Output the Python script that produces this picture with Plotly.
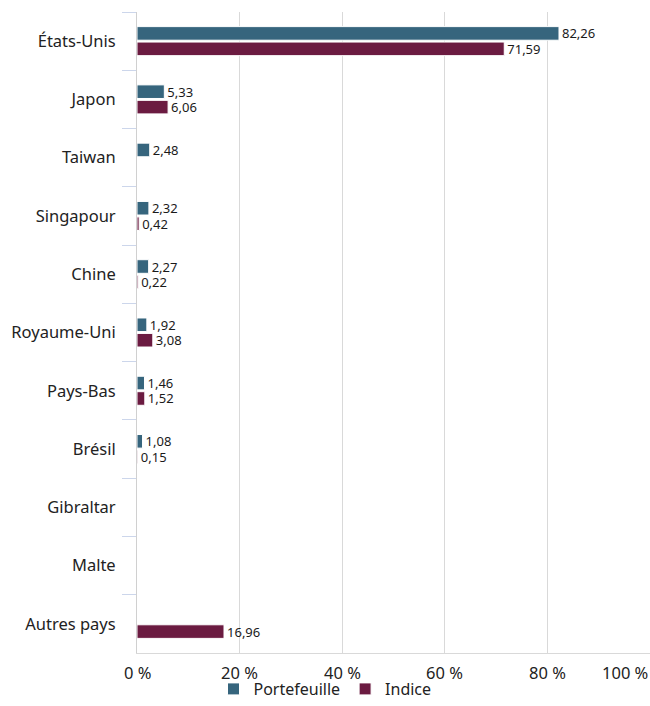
import plotly.graph_objects as go

# Répartition géographique (%)
pays = ["États-Unis", "Japon", "Taiwan", "Singapour", "Chine", "Royaume-Uni",
        "Pays-Bas", "Brésil", "Gibraltar", "Malte", "Autres pays"]
portefeuille = [82.26, 5.33, 2.48, 2.32, 2.27, 1.92, 1.46, 1.08, None, None, None]
indice = [71.59, 6.06, None, 0.42, 0.22, 3.08, 1.52, 0.15, None, None, 16.96]

x_ticks = [0, 20, 40, 60, 80, 100]
x_tick_labels = ["0 %", "20 %", "40 %", "60 %", "80 %", "100 %"]

COL_PF = "#36657d"
COL_IDX = "#6b1b41"
FONT = "Noto Sans"
TXT = "#222222"

fig = go.Figure()
for name, vals, col in [("Portefeuille", portefeuille, COL_PF),
                        ("Indice", indice, COL_IDX)]:
    fig.add_trace(go.Bar(
        name=name, y=pays, x=vals, orientation="h",
        marker=dict(color=col, line=dict(color="white", width=1)),
        texttemplate="%{x:.2f}", textposition="outside",
        textfont=dict(family=FONT, size=13, color="#1a1a1a"),
        constraintext="none", cliponaxis=False,
        hoverinfo="skip",
    ))

fig.update_layout(
    width=650, height=706,
    margin=dict(l=137, r=0, t=12, b=53, autoexpand=False),
    plot_bgcolor="white", paper_bgcolor="white",
    separators=", ",
    barmode="group", bargap=0.47, bargroupgap=0.12,
    uniformtext=dict(minsize=13, mode="show"),
    font=dict(family=FONT, size=16.5, color=TXT),
    showlegend=True,
    legend=dict(orientation="h", xref="container", yref="container",
                x=0.5, xanchor="center", y=-0.011, yanchor="bottom",
                bgcolor="rgba(0,0,0,0)",
                font=dict(family=FONT, size=16, color=TXT),
                itemwidth=30, traceorder="normal"),
    xaxis=dict(range=[0, 100], showgrid=True, gridcolor="#d9d9d9", gridwidth=1,
               zeroline=False, showline=True, linecolor="#d9d9d9",
               ticks="", showticklabels=False),
    yaxis=dict(autorange="reversed", showgrid=False, showline=True,
               linecolor="#d0d0d0", linewidth=1,
               ticks="outside", tickson="boundaries", ticklen=14,
               tickcolor="#ccd6eb", ticklabelstandoff=17,
               tickfont=dict(size=16.5)),
)

# Graduations de l'axe des valeurs ; la dernière est alignée à droite
for v, lab in zip(x_ticks, x_tick_labels):
    fig.add_annotation(x=v, y=0, xref="x", yref="paper", text=lab,
                       showarrow=False,
                       xanchor="right" if v == x_ticks[-1] else "center",
                       yanchor="top", yshift=-6,
                       font=dict(family=FONT, size=16.5, color=TXT))

fig.write_html("out.html")
